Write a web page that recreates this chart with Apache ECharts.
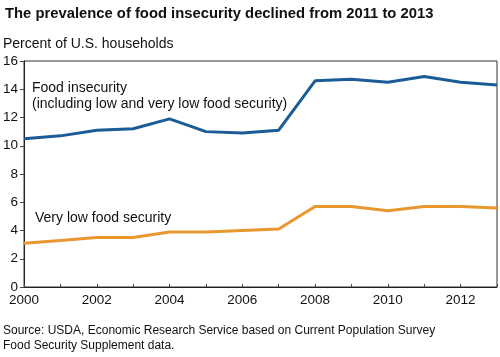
<!DOCTYPE html>
<html><head><meta charset="utf-8">
<script src="https://cdn.jsdelivr.net/npm/echarts@6/dist/echarts.min.js"></script>
<style>html,body{margin:0;padding:0;background:#fff}#c{width:500px;height:357px}</style>
</head><body><div id="c"></div>
<script>
const years = [2000,2001,2002,2003,2004,2005,2006,2007,2008,2009,2010,2011,2012,2013];
const foodInsecurity = [10.5,10.7,11.1,11.2,11.9,11.0,10.9,11.1,14.6,14.7,14.5,14.9,14.5,14.3];
const veryLowFoodSecurity = [3.1,3.3,3.5,3.5,3.9,3.9,4.0,4.1,5.7,5.7,5.4,5.7,5.7,5.6];
const yTicks = [0,2,4,6,8,10,12,14,16];

const F = 'Liberation Sans, Arial, Helvetica, sans-serif';
const chart = echarts.init(document.getElementById('c'));
chart.setOption({
  animation: false,
  backgroundColor: '#fff',
  textStyle: {fontFamily: F},
  grid: {left: 22, right: 3, top: 61, bottom: 70, show: true, borderColor: '#333', borderWidth: 1, containLabel: false},
  xAxis: {
    type: 'value', min: 2000, max: 2013, interval: 1,
    axisLine: {lineStyle: {color: '#222', width: 1}},
    axisTick: {inside: true, length: 3, lineStyle: {color: '#444'}},
    splitLine: {show: false},
    axisLabel: {color: '#111', fontSize: 13.5, fontFamily: F, margin: 6,
      formatter: v => (v % 2 === 0 ? String(v) : '')}
  },
  yAxis: {
    type: 'value', min: 0, max: 16, interval: 2,
    axisLine: {show: true, lineStyle: {color: '#222', width: 1}},
    axisTick: {show: true, length: 4, lineStyle: {color: '#444'}},
    splitLine: {show: false},
    axisLabel: {color: '#111', fontSize: 13.5, fontFamily: F, margin: 6,
      formatter: v => (yTicks.includes(v) ? String(v) : '')}
  },
  series: [
    {type: 'line', data: years.map((y,i)=>[y, foodInsecurity[i]]), symbol: 'none',
     lineStyle: {color: '#1b5b97', width: 3}},
    {type: 'line', data: years.map((y,i)=>[y, veryLowFoodSecurity[i]]), symbol: 'none',
     lineStyle: {color: '#e9972f', width: 3}}
  ],
  graphic: [
    {type: 'text', left: 5, top: 6, style: {text: 'The prevalence of food insecurity declined from 2011 to 2013', font: 'bold 14.8px ' + F, fill: '#111'}},
    {type: 'text', left: 3, top: 37, style: {text: 'Percent of U.S. households', font: '14px ' + F, fill: '#111'}},
    {type: 'text', left: 32, top: 81, style: {text: 'Food insecurity', font: '14px ' + F, fill: '#111'}},
    {type: 'text', left: 32, top: 97, style: {text: '(including low and very low food security)', font: '14px ' + F, fill: '#111'}},
    {type: 'text', left: 35, top: 211, style: {text: 'Very low food security', font: '14px ' + F, fill: '#111'}},
    {type: 'text', left: 3, top: 325, style: {text: 'Source: USDA, Economic Research Service based on Current Population Survey', font: '12px ' + F, fill: '#111'}},
    {type: 'text', left: 3, top: 340, style: {text: 'Food Security Supplement data.', font: '12px ' + F, fill: '#111'}}
  ]
});
</script></body></html>
